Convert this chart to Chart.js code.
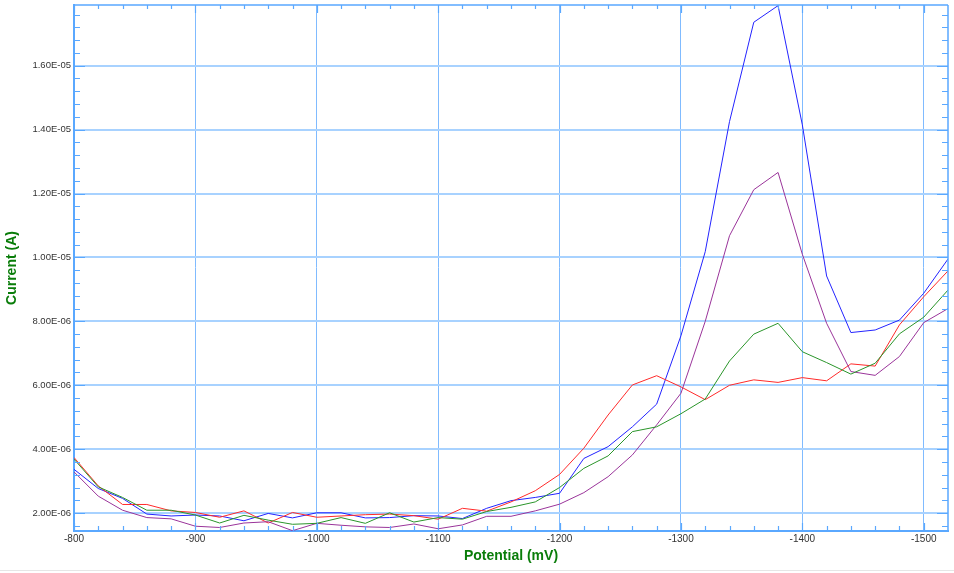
<!DOCTYPE html>
<html>
<head>
<meta charset="utf-8">
<script src="https://cdn.jsdelivr.net/npm/chart.js@4.4.1/dist/chart.umd.min.js"></script>
<style>
  html, body { margin: 0; padding: 0; background: #ffffff; }
  #wrap { position: relative; width: 954px; height: 573px; }
  canvas { display: block; }
</style>
</head>
<body>
<div id="wrap"><canvas id="c" width="954" height="573"></canvas></div>
<script>
// Potential (mV), every 20 mV from -800 to -1520
const potentials = [-800,-820,-840,-860,-880,-900,-920,-940,-960,-980,-1000,-1020,-1040,-1060,-1080,-1100,-1120,-1140,-1160,-1180,-1200,-1220,-1240,-1260,-1280,-1300,-1320,-1340,-1360,-1380,-1400,-1420,-1440,-1460,-1480,-1500,-1520];

// Current values in units of 1E-06 A
const blueSeries = [3.37,2.77,2.46,1.97,1.91,1.94,1.91,1.76,1.99,1.85,2.01,2.01,1.85,1.86,1.92,1.91,1.83,2.15,2.39,2.49,2.62,3.71,4.08,4.70,5.41,7.55,10.18,14.25,17.36,17.88,14.15,9.42,7.65,7.73,8.04,8.88,9.95];
const redSeries = [3.74,2.85,2.27,2.27,2.07,2.02,1.87,2.07,1.69,2.02,1.87,1.91,1.95,1.97,1.92,1.81,2.15,2.06,2.35,2.70,3.21,4.03,5.07,6.01,6.30,5.95,5.55,6.00,6.17,6.09,6.24,6.14,6.67,6.60,7.89,8.77,9.58];
const greenSeries = [3.69,2.82,2.49,2.09,2.09,1.94,1.69,1.93,1.78,1.65,1.68,1.86,1.68,2.01,1.72,1.86,1.81,2.05,2.18,2.35,2.80,3.40,3.79,4.55,4.70,5.11,5.57,6.76,7.60,7.94,7.05,6.71,6.35,6.69,7.61,8.13,8.98];
const purpleSeries = [3.29,2.53,2.09,1.86,1.82,1.59,1.55,1.69,1.73,1.45,1.68,1.62,1.57,1.55,1.66,1.51,1.63,1.90,1.90,2.07,2.28,2.64,3.14,3.82,4.76,5.75,8.00,10.68,12.12,12.66,10.10,7.94,6.43,6.31,6.90,7.96,8.40];

// Tick values
const xMajorTicks = [-800,-900,-1000,-1100,-1200,-1300,-1400,-1500];
const xMinorTicks = [-820,-840,-860,-880,-920,-940,-960,-980,-1020,-1040,-1060,-1080,-1120,-1140,-1160,-1180,-1220,-1240,-1260,-1280,-1320,-1340,-1360,-1380,-1420,-1440,-1460,-1480,-1520];
const yMajorTicks = [2e-6,4e-6,6e-6,8e-6,1e-5,1.2e-5,1.4e-5,1.6e-5];
const yMinorTicks = [1.6e-6,2.4e-6,2.8e-6,3.2e-6,3.6e-6,4.4e-6,4.8e-6,5.2e-6,5.6e-6,6.4e-6,6.8e-6,7.2e-6,7.6e-6,8.4e-6,8.8e-6,9.2e-6,9.6e-6,1.04e-5,1.08e-5,1.12e-5,1.16e-5,1.24e-5,1.28e-5,1.32e-5,1.36e-5,1.44e-5,1.48e-5,1.52e-5,1.56e-5,1.64e-5,1.68e-5,1.72e-5,1.76e-5];

const AXIS_COLOR = '#5aa8ff';
const GRID_COLOR = '#80bbff';
const HGRID_COLOR = '#a8d2ff';

function toPoints(arr) {
  return potentials.map((p, i) => ({ x: p, y: arr[i] * 1e-6 }));
}

function fmtSci(v) {
  let s = v.toExponential(2).toUpperCase(); // e.g. 2.00E-6
  return s.replace(/E([+-])(\d)$/, 'E$10$2');
}

const minorTicksPlugin = {
  id: 'minorTicks',
  afterDatasetsDraw(chart) {
    const ctx = chart.ctx;
    const a = chart.chartArea;
    const xs = chart.scales.x, ys = chart.scales.y;
    ctx.save();
    ctx.strokeStyle = AXIS_COLOR;
    ctx.lineWidth = 1.5;
    ctx.beginPath();
    // top and right borders
    ctx.moveTo(a.left, a.top); ctx.lineTo(a.right, a.top);
    ctx.moveTo(a.right, a.top); ctx.lineTo(a.right, a.bottom);
    ctx.stroke();
    ctx.lineWidth = 1.2;
    ctx.beginPath();
    yMinorTicks.forEach(v => {
      const y = Math.round(ys.getPixelForValue(v)) + 0.5;
      if (y < a.top || y > a.bottom) return;
      ctx.moveTo(a.left, y); ctx.lineTo(a.left + 6, y);
      ctx.moveTo(a.right, y); ctx.lineTo(a.right - 6, y);
    });
    yMajorTicks.forEach(v => {
      const y = Math.round(ys.getPixelForValue(v)) + 0.5;
      ctx.moveTo(a.left, y); ctx.lineTo(a.left + 11, y);
      ctx.moveTo(a.right, y); ctx.lineTo(a.right - 11, y);
    });
    xMinorTicks.forEach(v => {
      const x = Math.round(xs.getPixelForValue(v)) + 0.5;
      if (x < a.left || x > a.right) return;
      ctx.moveTo(x, a.bottom); ctx.lineTo(x, a.bottom - 5);
      ctx.moveTo(x, a.top); ctx.lineTo(x, a.top + 4);
    });
    xMajorTicks.forEach(v => {
      const x = Math.round(xs.getPixelForValue(v)) + 0.5;
      ctx.moveTo(x, a.bottom); ctx.lineTo(x, a.bottom - 8);
      ctx.moveTo(x, a.top); ctx.lineTo(x, a.top + 8);
    });
    ctx.stroke();
    // light page separator at bottom
    ctx.strokeStyle = '#e6e6e6';
    ctx.lineWidth = 1;
    ctx.beginPath();
    ctx.moveTo(0, chart.height - 2.5); ctx.lineTo(chart.width, chart.height - 2.5);
    ctx.stroke();
    ctx.restore();
  }
};

const ds = (label, data, color) => ({
  label, data: toPoints(data), borderColor: color, backgroundColor: color,
  borderWidth: 1, pointRadius: 0, tension: 0, fill: false
});

new Chart(document.getElementById('c'), {
  type: 'line',
  data: {
    datasets: [
      ds('Green', greenSeries, '#2a952a'),
      ds('Purple', purpleSeries, '#9a349a'),
      ds('Red', redSeries, '#ff2a2a'),
      ds('Blue', blueSeries, '#2323ff')
    ]
  },
  options: {
    responsive: false,
    animation: false,
    devicePixelRatio: 1,
    layout: { padding: { top: 5, right: 6, bottom: 0, left: 0 } },
    plugins: { legend: { display: false }, tooltip: { enabled: false } },
    scales: {
      x: {
        type: 'linear',
        reverse: true,
        min: -1520,
        max: -800,
        afterBuildTicks(scale) { scale.ticks = xMajorTicks.map(v => ({ value: v })); },
        afterFit(scale) { scale.height = 42; scale.paddingLeft = 0; scale.paddingRight = 0; },
        border: { display: true, color: AXIS_COLOR, width: 2 },
        grid: { color: GRID_COLOR, lineWidth: 1, drawTicks: false },
        ticks: {
          padding: 2,
          color: '#333333',
          font: { family: 'Liberation Sans, Arial, sans-serif', size: 10 },
          maxRotation: 0,
          autoSkip: false,
          callback: v => String(v)
        },
        title: {
          display: true,
          text: 'Potential (mV)',
          color: '#0a7d0a',
          font: { family: 'Liberation Sans, Arial, sans-serif', size: 14, weight: 'bold' },
          padding: { top: 0, bottom: 8 }
        }
      },
      y: {
        type: 'linear',
        min: 1.44e-6,
        max: 1.79e-5,
        afterBuildTicks(scale) { scale.ticks = yMajorTicks.map(v => ({ value: v })); },
        afterFit(scale) { scale.width = 74; scale.paddingTop = 0; scale.paddingBottom = 0; },
        border: { display: true, color: AXIS_COLOR, width: 2 },
        grid: { color: HGRID_COLOR, lineWidth: 2, drawTicks: false },
        ticks: {
          padding: 3,
          color: '#333333',
          font: { family: 'Liberation Sans, Arial, sans-serif', size: 9.5 },
          autoSkip: false,
          callback: v => fmtSci(v)
        },
        title: {
          display: true,
          text: 'Current (A)',
          color: '#0a7d0a',
          font: { family: 'Liberation Sans, Arial, sans-serif', size: 14, weight: 'bold' },
          padding: { top: 4, bottom: 0 }
        }
      }
    }
  },
  plugins: [minorTicksPlugin]
});
</script>
</body>
</html>
